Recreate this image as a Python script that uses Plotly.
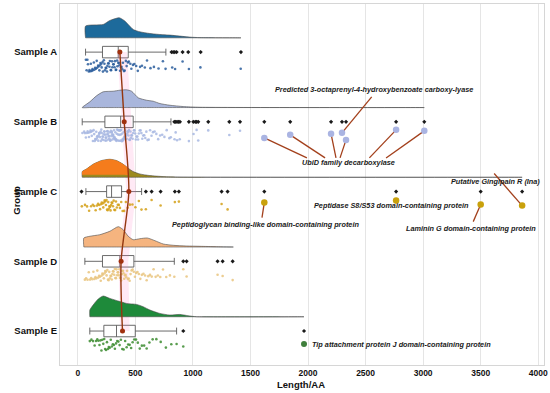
import plotly.graph_objects as go

# ---------------- data ----------------
groups = ["Sample A", "Sample B", "Sample C", "Sample D", "Sample E"]
group_pos = [5, 4, 3, 2, 1]

# box statistics (Length/AA)
q1 = [214, 235, 250, 214, 226]
median = [351, 372, 293, 365, 336]
q3 = [438, 481, 380, 487, 499]
lower_whisker = [67, 38, 70, 61, 104]
upper_whisker = [765, 809, 554, 838, 858]
means = [365, 403, 443, 376, 388]

outliers_A = [814, 828, 842, 858, 910, 959, 1067, 1417]
outliers_B = [838, 850, 862, 875, 887, 965, 1003, 1020, 1032, 1046, 1133, 1316, 1409,
              1620, 1845, 2200, 2295, 2330, 2765, 3010]
outliers_C = [32, 591, 641, 719, 843, 878, 1249, 1301, 1620, 2765, 3500, 3860]
outliers_D = [916, 945, 1214, 1258, 1345]
outliers_E = [916, 1965]

# raw lengths (jittered rain)
pts_A = [70, 76, 83, 88, 95, 101, 108, 113, 120, 127, 131, 139, 145, 150, 157, 164, 168, 176,
         180, 187, 193, 196, 204, 207, 215, 218, 226, 231, 235, 242, 246, 253, 257, 264, 268,
         275, 278, 286, 289, 297, 300, 308, 311, 319, 322, 330, 333, 341, 344, 352, 356, 361,
         367, 375, 379, 387, 392, 401, 407, 417, 424, 435, 443, 456, 465, 479, 491, 507, 521,
         541, 557, 582, 601, 631, 661, 701, 739, 762, 820, 845, 910, 965, 1065, 1415]
pts_B = [40, 55, 62, 70, 78, 85, 91, 97, 104, 110, 115, 121, 126, 131, 137, 142, 147, 151,
         156, 160, 164, 168, 172, 177, 181, 185, 189, 193, 197, 200, 204, 208, 211, 215, 218,
         222, 225, 229, 232, 236, 239, 242, 246, 249, 252, 255, 259, 262, 265, 268, 271, 274,
         277, 281, 284, 287, 290, 293, 296, 299, 302, 305, 308, 311, 314, 317, 320, 323, 326,
         329, 332, 335, 338, 341, 344, 347, 350, 353, 356, 359, 362, 365, 368, 371, 374, 377,
         380, 383, 386, 389, 392, 395, 398, 401, 404, 407, 410, 414, 417, 421, 424, 428, 432,
         436, 440, 444, 448, 452, 457, 461, 466, 471, 476, 481, 487, 492, 498, 504, 510, 517,
         523, 530, 537, 545, 552, 560, 568, 577, 586, 595, 605, 616, 628, 640, 653, 667, 682,
         698, 715, 733, 752, 772, 795, 808, 840, 850, 862, 885, 965, 1005, 1032, 1046, 1133,
         1316, 1409]
pts_C = [35, 62, 80, 98, 115, 130, 142, 155, 166, 176, 185, 193, 201, 208, 215, 221, 227,
         233, 239, 244, 249, 254, 259, 264, 269, 274, 279, 284, 289, 294, 299, 305, 311, 317,
         324, 331, 339, 347, 356, 366, 377, 389, 402, 417, 433, 452, 474, 500, 530, 553, 591,
         641, 719, 843, 878, 1249, 1301]
pts_D = [61, 72, 84, 95, 106, 116, 126, 135, 144, 153, 161, 169, 177, 185, 192, 199, 206,
         213, 219, 226, 232, 238, 244, 250, 256, 262, 267, 273, 278, 284, 289, 295, 300, 305,
         310, 316, 321, 326, 331, 336, 341, 346, 351, 356, 361, 366, 371, 376, 381, 386, 392,
         397, 403, 409, 415, 421, 428, 435, 442, 450, 458, 467, 476, 486, 496, 507, 518, 530,
         543, 556, 570, 584, 598, 612, 627, 642, 658, 676, 695, 716, 740, 768, 800, 838, 916,
         945, 1214, 1258, 1345]
pts_E = [104, 118, 132, 146, 158, 169, 179, 188, 197, 205, 213, 221, 229, 237, 245, 253,
         261, 269, 277, 286, 295, 304, 313, 322, 332, 342, 352, 363, 374, 386, 398, 411, 424,
         437, 450, 463, 476, 490, 505, 521, 538, 556, 576, 598, 622, 650, 682, 720, 765, 812,
         858, 916]

# density curves (x in Length/AA, relative height)
dens_x_A = [67, 67, 220, 278, 360, 409, 438, 481, 539, 626, 713, 800, 887, 974, 1061, 1417]
dens_h_A = [0, 11.7, 13.3, 17.3, 20, 16.7, 13.3, 8.3, 6, 4.3, 3.3, 2.7, 1.7, 0.7, 0.2, 0]
dens_x_B = [38, 104, 162, 220, 307, 365, 423, 467, 525, 597, 655, 713, 800, 916, 1061, 3010]
dens_h_B = [0, 5.7, 11.7, 15.7, 16.3, 17.3, 17.7, 16.3, 9.7, 7.3, 6.3, 4, 2.3, 1, 0.3, 0]
dens_x_C = [38, 38, 75, 133, 206, 278, 336, 394, 438, 481, 539, 626, 742, 887, 3860]
dens_h_C = [0, 5.7, 8.3, 13, 16.7, 18, 16.7, 13, 9, 5.7, 3.3, 1.7, 0.7, 0.2, 0]
dens_x_D = [52, 52, 104, 191, 278, 351, 394, 438, 481, 539, 603, 670, 742, 829, 945, 1061, 1206, 1351]
dens_h_D = [0, 9, 10.7, 12.3, 15.7, 20.3, 17.3, 10.7, 7.3, 8.3, 9, 6.3, 3, 1.7, 1, 0.7, 0.3, 0]
dens_x_E = [104, 104, 133, 177, 220, 278, 351, 423, 510, 568, 626, 713, 800, 887, 959, 1032, 1965]
dens_h_E = [0, 6.7, 11.7, 17.7, 20.7, 18.3, 15.7, 13.3, 12.3, 10, 6.7, 3.3, 1.7, 2.3, 1, 0, 0]

# highlighted proteins
hl_B_x = [1620, 1845, 2200, 2295, 2330, 2765, 3010]
hl_B_off = [16, 13, 12, 11, 18, 8, 9]
hl_B_label = ["UbiD", "UbiD", "UbiD", "Pred", "UbiD", "UbiD", "UbiD"]
hl_B_end_x = [1990, 2148, 2243, 2553, 2278, 2533, 2678]
hl_C_x = [1620, 2765, 3500, 3860]
hl_C_off = [11, 9, 13, 14]
hl_C_end_x = [1600, 2765, 3435, 3617]
hl_C_end_off = [26, 12, 30, -18]
hl_E_x = [1965]
hl_E_off = [13]

labels = [
    ("Predicted 3-octaprenyl-4-hydroxybenzoate carboxy-lyase", 2574, 4, -32, "center"),
    ("UbiD family decarboxylase", 2355, 4, 41, "center"),
    ("Putative Gingipain R (Ina)", 3626, 3, -10, "center"),
    ("Peptidase S8/S53 domain-containing protein", 2726, 3, 14, "center"),
    ("Peptidoglycan binding-like domain-containing protein", 1626, 3, 33, "center"),
    ("Laminin G domain-containing protein", 3413, 3, 37, "center"),
    ("Tip attachment protein J domain-containing protein", 2017, 1, 13, "left"),
]

# ---------------- styles ----------------
PX = 69.6  # pixels per group unit
fill_cols = ["#1d6a9b", "#a9b6dc", "#9c8a1e", "#f5b47f", "#1e8a3a"]
rain_cols = ["#2a5d9c", "#a7b7e2", "#d4a017", "#e9c47e", "#3c8c30"]
hl_cols = {"B": "#aab4e2", "C": "#c9a10c", "E": "#3f7f3c"}
seg_col = "#a3401c"
FONT = "Liberation Sans"

fig = go.Figure()

dens = [(dens_x_A, dens_h_A), (dens_x_B, dens_h_B), (dens_x_C, dens_h_C),
        (dens_x_D, dens_h_D), (dens_x_E, dens_h_E)]
base_off = 0.205

# pink confidence ribbon around mean line
rib_x = [m - 22 for m in means] + [m + 62 for m in means[::-1]]
rib_y = group_pos + group_pos[::-1]
fig.add_trace(go.Scatter(x=rib_x, y=rib_y, fill="toself", mode="lines",
                         line=dict(width=0), fillcolor="rgba(255,120,190,0.16)",
                         hoverinfo="skip", showlegend=False))

for i, (dx, dh) in enumerate(dens):
    base = group_pos[i] + base_off
    ys = [base + h / PX for h in dh]
    px_ = dx + dx[::-1]
    py_ = ys + [base] * len(dx)
    fig.add_trace(go.Scatter(x=px_, y=py_, fill="toself", mode="lines",
                             line=dict(color="#4a4a4a", width=0.6, shape="spline", smoothing=0.6),
                             fillcolor=fill_cols[i], hoverinfo="skip", showlegend=False))
    if i == 2:
        # orange upper part of sample C cloud
        sel = [(x, h) for x, h in zip(dx, dh) if x <= 470]
        ox = [s[0] for s in sel]
        oy = [base + s[1] / PX for s in sel]
        bx = ox[::-1]
        by = [base + 2.5 / PX] * len(ox)
        fig.add_trace(go.Scatter(x=ox + bx, y=oy + by, fill="toself", mode="lines",
                                 line=dict(width=0, shape="spline", smoothing=0.6),
                                 fillcolor="#f57c1c", hoverinfo="skip", showlegend=False))

# rain (jittered points)
rains = [pts_A, pts_B, pts_C, pts_D, pts_E]
for i, pts in enumerate(rains):
    jy = [group_pos[i] - (0.11 + 0.17 * ((k * 0.7548777 + (k * k) * 0.1234 + i * 0.3) % 1.0))
          for k in range(len(pts))]
    fig.add_trace(go.Scatter(x=pts, y=jy, mode="markers",
                             marker=dict(size=2.6, color=rain_cols[i], opacity=0.85),
                             hoverinfo="skip", showlegend=False))

# boxes
for i in range(5):
    fig.add_trace(go.Box(y=[group_pos[i]], orientation="h",
                         q1=[q1[i]], median=[median[i]], q3=[q3[i]],
                         lowerfence=[lower_whisker[i]], upperfence=[upper_whisker[i]],
                         width=0.165, whiskerwidth=0.6, boxpoints=False,
                         fillcolor="white", line=dict(color="#5a5a5a", width=0.9),
                         hoverinfo="skip", showlegend=False))

# outliers
outs = [outliers_A, outliers_B, outliers_C, outliers_D, outliers_E]
for i, o in enumerate(outs):
    fig.add_trace(go.Scatter(x=o, y=[group_pos[i]] * len(o), mode="markers",
                             marker=dict(size=3.2, color="#1a1a1a", symbol="diamond"),
                             hoverinfo="skip", showlegend=False))

# mean line
fig.add_trace(go.Scatter(x=means, y=group_pos, mode="lines+markers",
                         line=dict(color="#94360f", width=1.4, shape="spline", smoothing=0.8),
                         marker=dict(size=5, color="#a0300e"),
                         hoverinfo="skip", showlegend=False))

# highlight connector segments
segx, segy = [], []
for x, off, lab, ex in zip(hl_B_x, hl_B_off, hl_B_label, hl_B_end_x):
    y0 = 4 - off / PX
    y1 = 4 - 36 / PX if lab == "UbiD" else 4 + 25 / PX
    segx += [x, ex, None]
    segy += [y0, y1, None]
for x, off, ex, eo in zip(hl_C_x, hl_C_off, hl_C_end_x, hl_C_end_off):
    segx += [x, ex, None]
    segy += [3 - off / PX, 3 - eo / PX, None]
fig.add_trace(go.Scatter(x=segx, y=segy, mode="lines",
                         line=dict(color=seg_col, width=1.3),
                         hoverinfo="skip", showlegend=False))

fig.add_trace(go.Scatter(x=hl_B_x, y=[4 - o / PX for o in hl_B_off], mode="markers",
                         marker=dict(size=6.5, color=hl_cols["B"]),
                         hoverinfo="skip", showlegend=False))
fig.add_trace(go.Scatter(x=hl_C_x, y=[3 - o / PX for o in hl_C_off], mode="markers",
                         marker=dict(size=6.5, color=hl_cols["C"]),
                         hoverinfo="skip", showlegend=False))
fig.add_trace(go.Scatter(x=hl_E_x, y=[1 - o / PX for o in hl_E_off], mode="markers",
                         marker=dict(size=6, color=hl_cols["E"]),
                         hoverinfo="skip", showlegend=False))

annots = []
for text, x, g, off, align in labels:
    annots.append(dict(x=x, y=g - off / PX, xref="x", yref="y", text="<b><i>" + text + "</i></b>",
                       showarrow=False, xanchor=align, yanchor="middle",
                       font=dict(family=FONT, size=7.3, color="#1a1a1a")))
annots.append(dict(x=-0.107, y=0.457, xref="paper", yref="paper", text="<b>Group</b>",
                   textangle=-90, showarrow=False, font=dict(family=FONT, size=9.5, color="#111")))
annots.append(dict(x=0.498, y=-0.055, xref="paper", yref="paper", text="<b>Length/AA</b>",
                   showarrow=False, yanchor="middle", font=dict(family=FONT, size=9.5, color="#111")))

fig.update_layout(
    width=550, height=393, margin=dict(l=60, r=6, t=4, b=28, autoexpand=False),
    paper_bgcolor="white", plot_bgcolor="white",
    annotations=annots, showlegend=False,
    xaxis=dict(range=[-155, 4050], tickvals=[0, 500, 1000, 1500, 2000, 2500, 3000, 3500, 4000],
               showgrid=True, gridcolor="#e5e5e5", gridwidth=1, zeroline=False, automargin=False,
               showline=True, linecolor="#d6d6d6", mirror=True, ticks="",
               tickfont=dict(family=FONT, size=8.5, color="#111", weight="bold")),
    yaxis=dict(range=[0.513, 5.69], tickvals=group_pos, ticktext=groups, automargin=False,
               showgrid=False, zeroline=False, showline=True, linecolor="#d6d6d6", mirror=True,
               ticks="", tickfont=dict(family=FONT, size=9.5, color="#111", weight="bold")),
)

fig.write_html("out.html", config={"displayModeBar": False},
               post_script="document.body.style.margin='0';document.body.style.overflow='hidden';")
